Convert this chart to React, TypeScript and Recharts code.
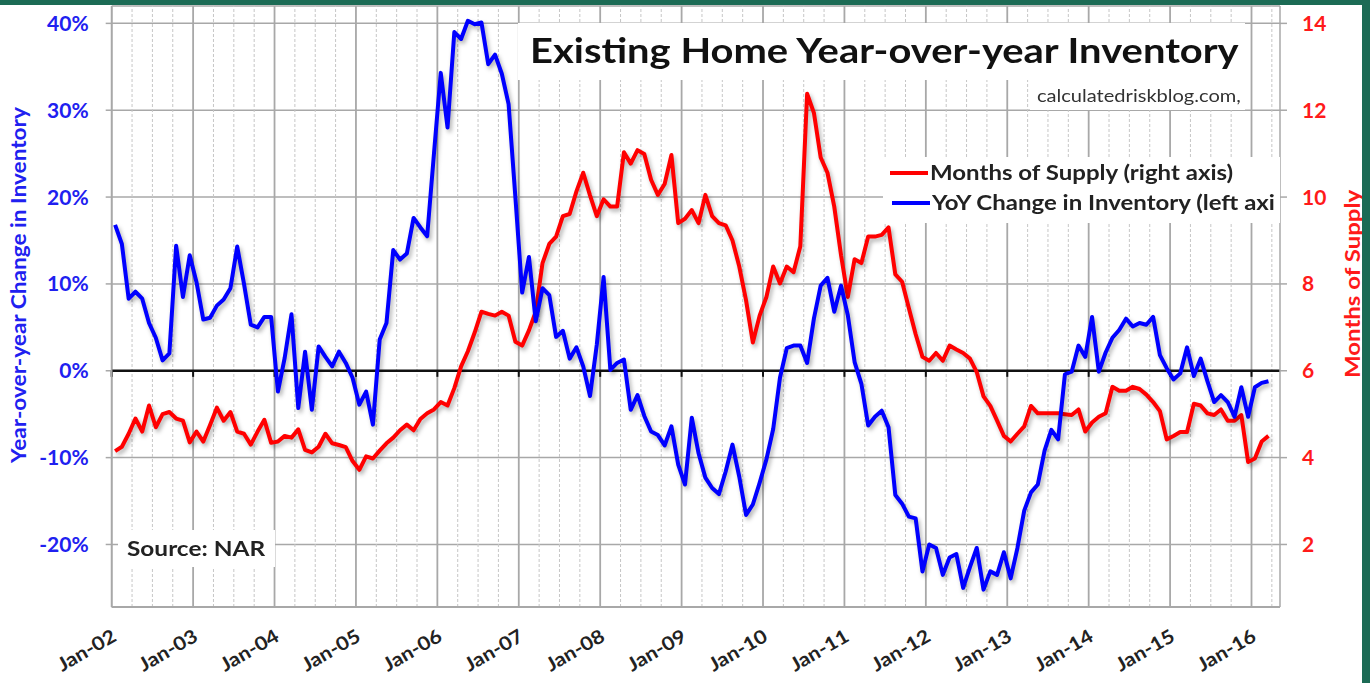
import { LineChart, Line, XAxis, YAxis, CartesianGrid, ReferenceLine } from "recharts";

// monthly, Jan-02 .. Mar-16
const yoyChange = [
  16.8, 14.6, 8.3, 9.1, 8.3, 5.5, 3.8, 1.2, 2.0, 14.4, 8.5, 13.3,
  10.2, 5.9, 6.1, 7.5, 8.2, 9.5, 14.3, 10.0, 5.3, 5.0, 6.2, 6.2,
  -2.4, 1.5, 6.5, -4.3, 2.2, -4.5, 2.8, 1.6, 0.5, 2.2, 0.9, -0.8,
  -3.9, -2.4, -6.2, 3.6, 5.5, 13.9, 12.8, 13.5, 17.6, 16.5, 15.5, 25.0,
  34.3, 28.0, 39.0, 38.2, 40.3, 39.9, 40.1, 35.3, 36.4, 34.2, 30.7, 20.0,
  9.0, 13.1, 5.7, 9.5, 8.7, 3.9, 4.6, 1.4, 2.7, 0.5, -2.9, 3.0,
  10.8, 0.1, 0.9, 1.3, -4.5, -2.8, -5.2, -7.0, -7.4, -8.6, -6.4, -10.8,
  -13.1, -5.4, -9.5, -12.3, -13.5, -14.2, -11.6, -8.5, -12.2, -16.6, -15.4, -12.9,
  -10.2, -6.7, -0.8, 2.6, 2.9, 2.9, 0.9, 6.0, 9.8, 10.7, 6.8, 9.8,
  6.4, 1.0, -1.5, -6.3, -5.3, -4.6, -6.5, -14.3, -15.3, -16.8, -17.0, -23.1,
  -20.0, -20.4, -23.5, -21.5, -21.1, -25.0, -22.6, -20.4, -25.2, -23.1, -23.5, -20.9,
  -23.9, -20.4, -16.1, -14.0, -13.1, -9.2, -6.8, -7.9, -0.4, -0.1, 2.9, 1.6,
  6.2, -0.1, 2.1, 3.8, 4.7, 6.0, 5.1, 5.5, 5.3, 6.2, 1.8, 0.3,
  -1.0, -0.3, 2.7, -0.6, 1.4, -1.2, -3.6, -2.8, -3.6, -5.3, -1.9, -5.3,
  -1.9, -1.4, -1.2,
];

const monthsSupply = [
  4.15, 4.25, 4.55, 4.9, 4.6, 5.2, 4.7, 5.0, 5.05, 4.9, 4.85, 4.35,
  4.6, 4.37, 4.75, 5.15, 4.85, 5.05, 4.6, 4.55, 4.3, 4.6, 4.87, 4.34,
  4.37, 4.5, 4.46, 4.65, 4.18, 4.12, 4.25, 4.55, 4.33, 4.29, 4.24, 3.92,
  3.72, 4.03, 3.98, 4.16, 4.33, 4.46, 4.63, 4.76, 4.63, 4.89, 5.02, 5.11,
  5.28, 5.2, 5.6, 6.1, 6.45, 6.88, 7.36, 7.31, 7.27, 7.36, 7.27, 6.67,
  6.58, 6.93, 7.36, 8.48, 8.92, 9.09, 9.56, 9.61, 10.13, 10.56, 10.04, 9.56,
  9.95, 9.78, 9.78, 11.03, 10.77, 11.08, 10.99, 10.4, 10.05, 10.3, 10.97, 9.4,
  9.5, 9.7, 9.4, 10.05, 9.56, 9.4, 9.35, 9.0, 8.4, 7.62, 6.65, 7.27,
  7.7, 8.4, 8.01, 8.4, 8.27, 8.87, 12.38, 11.94, 10.91, 10.56, 9.78, 8.66,
  7.7, 8.57, 8.48, 9.09, 9.09, 9.13, 9.3, 8.22, 8.05, 7.44, 6.84, 6.32,
  6.23, 6.41, 6.23, 6.58, 6.49, 6.41, 6.28, 5.97, 5.41, 5.19, 4.85, 4.5,
  4.37, 4.55, 4.72, 5.19, 5.02, 5.02, 5.02, 5.02, 5.0, 4.98, 5.11, 4.6,
  4.81, 4.94, 5.02, 5.63, 5.54, 5.54, 5.63, 5.58, 5.45, 5.28, 5.07, 4.42,
  4.5, 4.59, 4.59, 5.24, 5.2, 5.02, 4.98, 5.11, 4.85, 4.85, 4.98, 3.9,
  3.98, 4.37, 4.5,
];

const yearLabels = [
  "Jan-02", "Jan-03", "Jan-04", "Jan-05", "Jan-06", "Jan-07", "Jan-08", "Jan-09",
  "Jan-10", "Jan-11", "Jan-12", "Jan-13", "Jan-14", "Jan-15", "Jan-16",
];
const leftTicks = [-20, -10, 0, 10, 20, 30, 40];
const rightTicks = [2, 4, 6, 8, 10, 12, 14];

const data = yoyChange.map((v, i) => ({ m: i + 0.5, yoy: v, mos: monthsSupply[i] }));
const yearTicks = yearLabels.map((_, k) => k * 12);
const quarterTicks: number[] = [];
for (let q = 3; q <= 171; q += 3) if (q % 12 !== 0) quarterTicks.push(q);

const FONT = "Lato, 'Open Sans', sans-serif";
const BLUE = "#0000ff";
const RED = "#ff0000";
const BLUE_TXT = "#2020f0";
const RED_TXT = "#ff1a1a";
const GRID = "#a8a8a8";

function LeftTick(props: any) {
  const { x, y, payload } = props;
  return (
    <text x={x - 17} y={y + 7.5} textAnchor="end" fill={BLUE_TXT} fontSize={21} fontWeight={700} fontFamily={FONT}>
      {payload.value}%
    </text>
  );
}

function RightTick(props: any) {
  const { x, y, payload } = props;
  return (
    <text x={x + 15} y={y + 7.5} textAnchor="start" fill={RED_TXT} fontSize={21} fontWeight={700} fontFamily={FONT}>
      {payload.value}
    </text>
  );
}

function BottomTick(props: any) {
  const { x, y, payload } = props;
  const label = yearLabels[Math.round(payload.value / 12)];
  const tx = x + 6;
  const ty = y + 33;
  return (
    <text transform={`translate(${tx} ${ty}) rotate(-30) scale(1.12 1)`} textAnchor="end" fill="#222" fontSize={19} fontWeight={700} fontFamily={FONT}>
      {label}
    </text>
  );
}

const box = (left: number, top: number, width: number, height: number): React.CSSProperties => ({
  position: "absolute", left, top, width, height, background: "#fff",
});

const stretched = (left: number, top: number, size: number, k: number, weight = 700, color = "#222"): React.CSSProperties => ({
  position: "absolute", left, top, fontSize: size, fontWeight: weight, color, whiteSpace: "nowrap",
  transform: `scaleX(${k})`, transformOrigin: "0 0",
});

export default function App() {
  return (
    <div style={{ position: "relative", width: 1370, height: 683, background: "#fff", overflow: "hidden", fontFamily: FONT }}>
      <style>{`body{margin:0} .recharts-line-curve{filter:drop-shadow(2px 3px 2px rgba(0,0,0,0.3))}`}</style>
      <LineChart width={1370} height={683} data={data} margin={{ top: 6, right: 0, bottom: 0, left: 0 }}>
        <CartesianGrid yAxisId="l" vertical={false} stroke={GRID} strokeWidth={1.5} />
        <XAxis
          dataKey="m" type="number" domain={[0, 172.2]} allowDataOverflow ticks={yearTicks}
          tick={BottomTick} tickLine={false} tickSize={0} tickMargin={0} height={76}
          axisLine={{ stroke: GRID, strokeWidth: 2 }} interval={0}
        />
        <YAxis
          yAxisId="l" orientation="left" domain={[-27.2, 42]} allowDataOverflow ticks={leftTicks}
          width={111.7} tick={LeftTick} tickSize={6} tickMargin={0} interval={0}
          tickLine={{ stroke: GRID, strokeWidth: 1.5 }} axisLine={{ stroke: GRID, strokeWidth: 1.5 }}
        />
        <YAxis
          yAxisId="r" orientation="right" domain={[0.56, 14.4]} allowDataOverflow ticks={rightTicks}
          width={90} tick={RightTick} tickSize={7} tickMargin={0} interval={0}
          tickLine={{ stroke: GRID, strokeWidth: 1.5 }} axisLine={{ stroke: GRID, strokeWidth: 1.5 }}
        />
        {quarterTicks.map((q) => (
          <ReferenceLine key={"q" + q} x={q} yAxisId="l" stroke="#c6c6c6" strokeWidth={1} strokeDasharray="3 2" />
        ))}
        {yearTicks.map((t) => (
          <ReferenceLine key={"y" + t} x={t} yAxisId="l" stroke={GRID} strokeWidth={1.8} />
        ))}
        <ReferenceLine y={0} yAxisId="l" stroke="#111" strokeWidth={2.5} />
        {yearTicks.map((t) => (
          <ReferenceLine key={"t" + t} yAxisId="l" segment={[{ x: t, y: 0 }, { x: t, y: -0.7 }]} stroke="#111" strokeWidth={2} />
        ))}
        <Line yAxisId="r" type="linear" dataKey="mos" stroke={RED} strokeWidth={4} dot={false} isAnimationActive={false} strokeLinejoin="round" />
        <Line yAxisId="l" type="linear" dataKey="yoy" stroke={BLUE} strokeWidth={4} dot={false} isAnimationActive={false} strokeLinejoin="round" />
      </LineChart>

      <div style={box(518, 23, 727, 57)}>
        <div style={stretched(12, 5, 35, 1.14, 700, "#111")}>Existing Home Year-over-year Inventory</div>
      </div>
      <div style={box(1030, 80, 215, 30)}>
        <div style={stretched(7, 5, 17, 1.18, 400, "#333")}>calculatedriskblog.com,</div>
      </div>
      <div style={{ ...box(883, 157, 397, 66), overflow: "hidden" }}>
        <div style={{ position: "absolute", left: 7, top: 14, width: 38, height: 4, background: RED }} />
        <div style={stretched(47, 3, 20, 1.2)}>Months of Supply (right axis)</div>
        <div style={{ position: "absolute", left: 9, top: 44, width: 38, height: 4, background: BLUE }} />
        <div style={stretched(49, 33, 20, 1.2)}>YoY Change in Inventory (left axi</div>
      </div>
      <div style={box(118, 530, 157, 37)}>
        <div style={stretched(9, 6, 20, 1.22)}>Source: NAR</div>
      </div>

      <div style={{ position: "absolute", left: 18, top: 285, transform: "translate(-50%, -50%) rotate(-90deg) scaleX(1.13)", fontSize: 20, fontWeight: 700, color: BLUE_TXT, whiteSpace: "nowrap" }}>
        Year-over-year Change in Inventory
      </div>
      <div style={{ position: "absolute", left: 1352, top: 284, transform: "translate(-50%, -50%) rotate(-90deg) scaleX(1.2)", fontSize: 20, fontWeight: 700, color: RED_TXT, whiteSpace: "nowrap" }}>
        Months of Supply
      </div>

      <div style={{ position: "absolute", left: 0, top: 0, width: 1370, height: 5, background: "#1c6b55" }} />
      <div style={{ position: "absolute", left: 1362, top: 0, width: 8, height: 683, background: "#1c6b55" }} />
    </div>
  );
}
